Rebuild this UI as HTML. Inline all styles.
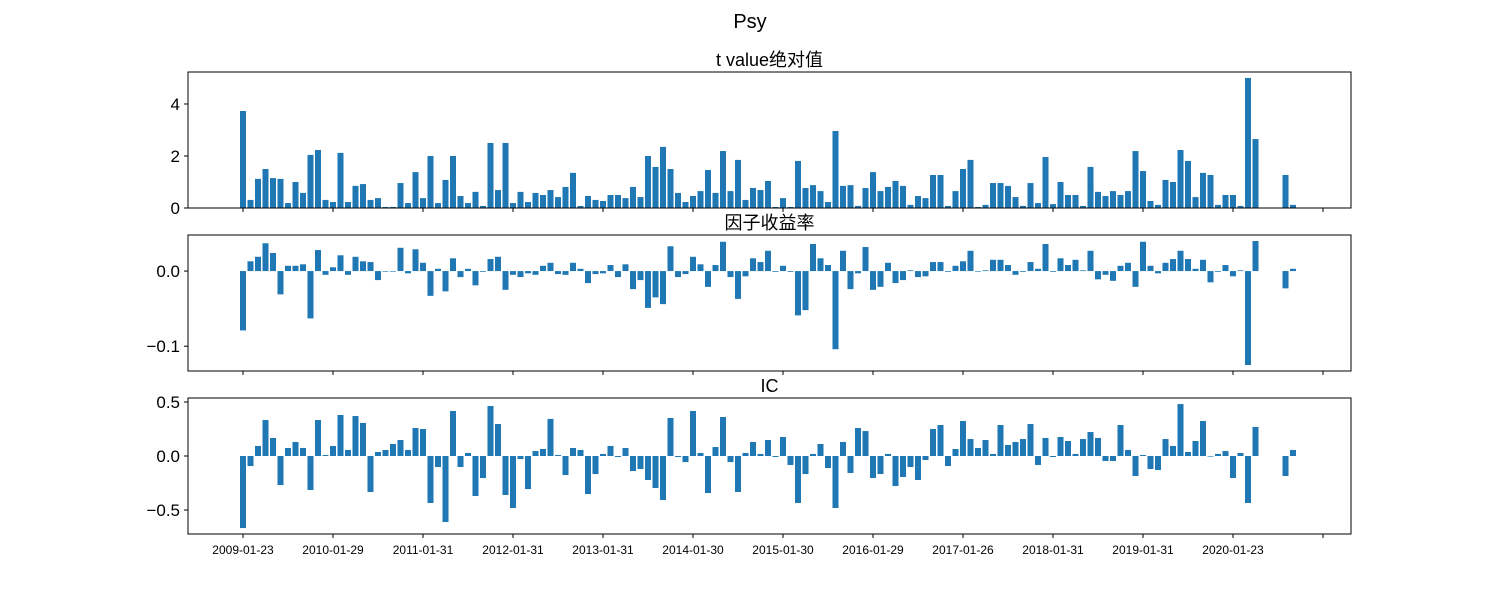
<!DOCTYPE html>
<html><head><meta charset="utf-8">
<style>
html,body{margin:0;padding:0;background:#fff;}
svg{display:block;font-family:"WenQuanYi Zen Hei","Liberation Sans","Noto Sans CJK SC",sans-serif;}
</style></head>
<body>
<svg id="chart" width="1500" height="600" viewBox="0 0 1500 600" xmlns="http://www.w3.org/2000/svg">
<text x="750" y="28" text-anchor="middle" font-size="20">Psy</text>
</svg>
<script>
const tickLabels = ["2009-01-23","2010-01-29","2011-01-31","2012-01-31","2013-01-31","2014-01-30","2015-01-30","2016-01-29","2017-01-26","2018-01-31","2019-01-31","2020-01-23",""];
const tickIdx = [0,12,24,36,48,60,72,84,96,108,120,132,144];
const tValues = [3.73,0.31,1.12,1.5,1.15,1.12,0.19,1.0,0.58,2.04,2.23,0.31,0.23,2.12,0.23,0.85,0.92,0.31,0.38,0.04,0.04,0.96,0.19,1.38,0.38,2.0,0.19,1.08,2.0,0.46,0.19,0.62,0.08,2.5,0.69,
2.5,0.19,0.62,0.23,0.58,0.5,0.69,0.42,0.81,1.35,0.08,0.46,0.31,0.27,0.5,0.5,0.38,0.81,0.42,2.0,1.58,2.35,1.5,0.58,0.23,0.46,0.65,1.46,0.58,2.19,0.65,1.85,0.31,0.77,0.69,
1.04,0.04,0.38,0.04,1.81,0.77,0.88,0.65,0.23,2.96,0.85,0.88,0.08,0.77,1.38,0.65,0.81,1.04,0.85,0.12,0.46,0.38,1.27,1.27,0.08,0.65,1.5,1.85,0.04,0.12,0.96,0.96,0.85,0.42,0.08,
0.96,0.19,1.96,0.15,1.0,0.5,0.5,0.08,1.58,0.62,0.46,0.65,0.5,0.65,2.19,1.42,0.27,0.12,1.08,1.0,2.23,1.81,0.42,1.35,1.27,0.12,0.5,0.5,0.08,5.0,2.65,null,null,null,1.27,0.12];
const retValues = [-0.079,0.013,0.019,0.037,0.024,-0.031,0.007,0.007,0.009,-0.063,0.028,-0.005,0.005,0.021,-0.005,0.019,0.013,0.012,-0.012,0,0,0.031,-0.003,0.029,0.011,-0.033,0.003,-0.027,0.017,-0.008,0.003,-0.019,-0.001,0.016,0.019,
-0.025,-0.005,-0.008,-0.003,-0.005,0.007,0.011,-0.004,-0.005,0.011,0.003,-0.016,-0.004,-0.003,0.008,-0.008,0.009,-0.024,-0.012,-0.049,-0.035,-0.044,0.033,-0.008,-0.004,0.019,0.009,-0.021,0.008,0.039,-0.008,-0.037,-0.007,0.017,0.012,
0.027,-0.001,0.007,-0.001,-0.059,-0.052,0.036,0.017,0.008,-0.104,0.027,-0.024,-0.003,0.032,-0.025,-0.021,0.011,-0.016,-0.012,0.001,-0.008,-0.007,0.012,0.012,-0.001,0.007,0.013,0.027,0,0.001,0.015,0.015,0.008,-0.005,-0.001,
0.012,0.003,0.036,-0.001,0.017,0.008,0.015,0.001,0.027,-0.011,-0.005,-0.013,0.007,0.011,-0.021,0.039,0.007,-0.003,0.011,0.016,0.027,0.016,0.003,0.015,-0.015,-0.001,0.008,-0.007,0.001,-0.125,0.04,null,null,null,-0.023,0.003];
const icValues = [-0.667,-0.093,0.093,0.333,0.167,-0.269,0.074,0.13,0.074,-0.315,0.333,0.009,0.093,0.38,0.056,0.37,0.306,-0.333,0.037,0.056,0.111,0.148,0.056,0.259,0.25,-0.435,-0.102,-0.611,0.417,-0.102,0.028,-0.37,-0.204,0.463,0.296,
-0.361,-0.481,-0.028,-0.306,0.046,0.065,0.343,0.009,-0.176,0.074,0.056,-0.352,-0.167,0.019,0.093,-0.009,0.074,-0.139,-0.12,-0.222,-0.296,-0.407,0.352,-0.009,-0.056,0.417,0.028,-0.343,0.083,0.361,-0.056,-0.333,0.028,0.13,0.019,
0.148,-0.009,0.176,-0.083,-0.435,-0.167,0.019,0.111,-0.111,-0.481,0.13,-0.157,0.259,0.231,-0.204,-0.167,0.019,-0.278,-0.194,-0.102,-0.222,-0.037,0.25,0.287,-0.093,0.065,0.324,0.157,0.074,0.148,0.019,0.287,0.102,0.13,0.157,
0.296,-0.083,0.167,-0.009,0.176,0.139,0.019,0.157,0.222,0.167,-0.046,-0.046,0.287,0.056,-0.185,0.009,-0.12,-0.13,0.157,0.093,0.481,0.037,0.139,0.324,0,0.019,0.046,-0.204,0.028,-0.435,0.269,null,null,null,-0.185,0.056];

const svg = document.getElementById('chart');
const NS = 'http://www.w3.org/2000/svg';
const X0 = 188, X1 = 1351;
function xPos(i){ return 243 + 7.5*i; }
function mk(tag, attrs){ const e=document.createElementNS(NS,tag); for(const k in attrs) e.setAttribute(k,attrs[k]); svg.appendChild(e); return e; }

const panels = [
 {key:'t-value', title:'t value绝对值', top:72, bot:208, min:0, max:5.23, vals:tValues, ticks:[0,2,4], lab:['0','2','4']},
 {key:'factor-return', title:'因子收益率', top:235, bot:371, min:-0.133, max:0.048, vals:retValues, ticks:[0,-0.1], lab:['0.0','\u22120.1']},
 {key:'ic', title:'IC', top:398, bot:534, min:-0.722, max:0.537, vals:icValues, ticks:[0.5,0,-0.5], lab:['0.5','0.0','\u22120.5']}
];

panels.forEach((p, pi) => {
  const y = v => p.bot - (v - p.min)/(p.max - p.min)*(p.bot - p.top);
  const t = mk('text',{x:769.5,y:p.top-6,'text-anchor':'middle','font-size':'18'});
  t.textContent = p.title;
  
  
  p.vals.forEach((v,i) => {
    if (v === null) return;
    const y0 = y(0), yv = y(v);
    const r = mk('rect',{x:xPos(i)-3,y:Math.min(y0,yv),width:6,height:Math.max(Math.abs(yv-y0),0.6),fill:'#1f77b4'});
    
    
  });
  const fr = mk('rect',{x:X0,y:p.top,width:X1-X0,height:p.bot-p.top,fill:'none',stroke:'#000','stroke-width':1});
  
  
  p.ticks.forEach((tv,k) => {
    const yy = y(tv);
    const tl = mk('line',{x1:X0-4,x2:X0,y1:yy,y2:yy,stroke:'#000','stroke-width':1});
    
    
    const tx = mk('text',{x:X0-8,y:yy+6,'text-anchor':'end','font-size':'17'});
    tx.textContent = p.lab[k];
    
    
  });
  tickIdx.forEach((ti,k) => {
    const xx = xPos(ti);
    const xl = mk('line',{x1:xx,x2:xx,y1:p.bot,y2:p.bot+4,stroke:'#000','stroke-width':1});
    
    
    if (pi === 2 && tickLabels[k]) {
      const xt = mk('text',{x:xx,y:p.bot+20,'text-anchor':'middle','font-size':'12'});
      xt.textContent = tickLabels[k];
      
      
    }
  });
});
</script>
</body></html>
